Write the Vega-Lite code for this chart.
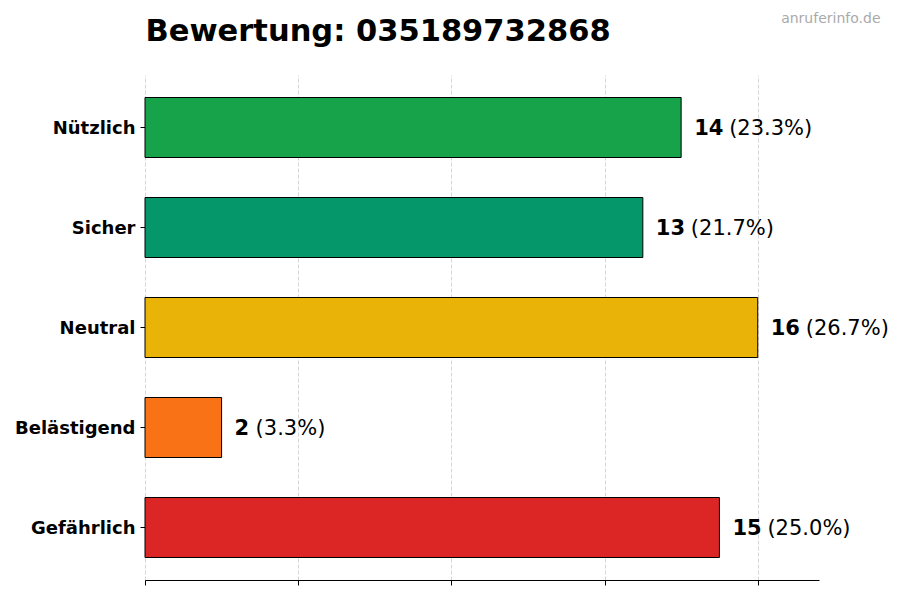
{
  "$schema": "https://vega.github.io/schema/vega-lite/v6.json",
  "autosize": "none",
  "width": 674,
  "height": 505,
  "padding": {"left": 145, "top": 75, "right": 81, "bottom": 20},
  "background": "white",
  "config": {"view": {"stroke": null}, "font": "DejaVu Sans"},
  "data": {
    "values": [
      {"kategorie": "Nützlich", "anzahl": 14, "prozent": "(23.3%)"},
      {"kategorie": "Sicher", "anzahl": 13, "prozent": "(21.7%)"},
      {"kategorie": "Neutral", "anzahl": 16, "prozent": "(26.7%)"},
      {"kategorie": "Belästigend", "anzahl": 2, "prozent": "(3.3%)"},
      {"kategorie": "Gefährlich", "anzahl": 15, "prozent": "(25.0%)"}
    ]
  },
  "resolve": {"axis": {"x": "independent", "y": "shared"}},
  "encoding": {
    "y": {
      "field": "kategorie",
      "type": "nominal",
      "sort": ["Nützlich", "Sicher", "Neutral", "Belästigend", "Gefährlich"],
      "scale": {"paddingInner": 0.4, "paddingOuter": 0.225},
      "axis": {
        "title": "anruferinfo.de",
        "titleAngle": 0,
        "titleAlign": "right",
        "titleBaseline": "alphabetic",
        "titleX": 735,
        "titleY": -53,
        "titleFont": "DejaVu Sans",
        "titleFontSize": 14,
        "titleFontWeight": "normal",
        "titleColor": "#aaaaaa",
        "domain": false,
        "ticks": true,
        "tickSize": 5,
        "tickColor": "black",
        "labelFont": "DejaVu Sans",
        "labelFontSize": 18,
        "labelFontWeight": "bold",
        "labelColor": "black",
        "labelPadding": 5,
        "labelOffset": 1,
        "grid": false
      }
    }
  },
  "layer": [
    {
      "mark": {"type": "bar", "stroke": "black", "strokeWidth": 1},
      "encoding": {
        "x": {
          "field": "anzahl",
          "type": "quantitative",
          "scale": {"domain": [0, 17.6], "nice": false, "zero": true},
          "axis": {
            "orient": "bottom",
            "title": null,
            "labels": false,
            "values": [0, 4, 8, 12, 16],
            "ticks": true,
            "tickSize": 5,
            "tickColor": "black",
            "domain": true,
            "domainColor": "black",
            "domainWidth": 1,
            "grid": true,
            "gridColor": "#cccccc",
            "gridDash": [4, 2],
            "gridWidth": 0.8
          }
        },
        "color": {
          "field": "kategorie",
          "type": "nominal",
          "scale": {
            "domain": ["Nützlich", "Sicher", "Neutral", "Belästigend", "Gefährlich"],
            "range": ["#16a34a", "#059669", "#eab308", "#f97316", "#dc2626"]
          },
          "legend": null
        }
      }
    },
    {
      "mark": {"type": "text", "align": "left", "baseline": "middle", "dx": 13, "dy": 1, "font": "DejaVu Sans", "fontSize": 21, "fontWeight": "bold", "color": "black"},
      "encoding": {
        "x": {
          "field": "anzahl",
          "type": "quantitative",
          "axis": {
            "orient": "top",
            "title": "Bewertung: 035189732868",
            "titleFont": "DejaVu Sans",
            "titleFontSize": 30.5,
            "titleFontWeight": "bold",
            "titleColor": "black",
            "titleAnchor": "start",
            "titleAlign": "left",
            "titleBaseline": "alphabetic",
            "titleX": 0,
            "titleY": -35,
            "labels": false,
            "ticks": false,
            "domain": false,
            "grid": false
          }
        },
        "text": {"field": "anzahl", "type": "quantitative"}
      }
    },
    {
      "transform": [{"filter": "datum.anzahl >= 10"}],
      "mark": {"type": "text", "align": "left", "baseline": "middle", "dx": 48, "dy": 1, "font": "DejaVu Sans", "fontSize": 21, "fontWeight": "normal", "color": "black"},
      "encoding": {
        "x": {"field": "anzahl", "type": "quantitative", "axis": null},
        "text": {"field": "prozent", "type": "nominal"}
      }
    },
    {
      "transform": [{"filter": "datum.anzahl < 10"}],
      "mark": {"type": "text", "align": "left", "baseline": "middle", "dx": 34, "dy": 1, "font": "DejaVu Sans", "fontSize": 21, "fontWeight": "normal", "color": "black"},
      "encoding": {
        "x": {"field": "anzahl", "type": "quantitative", "axis": null},
        "text": {"field": "prozent", "type": "nominal"}
      }
    }
  ]
}
